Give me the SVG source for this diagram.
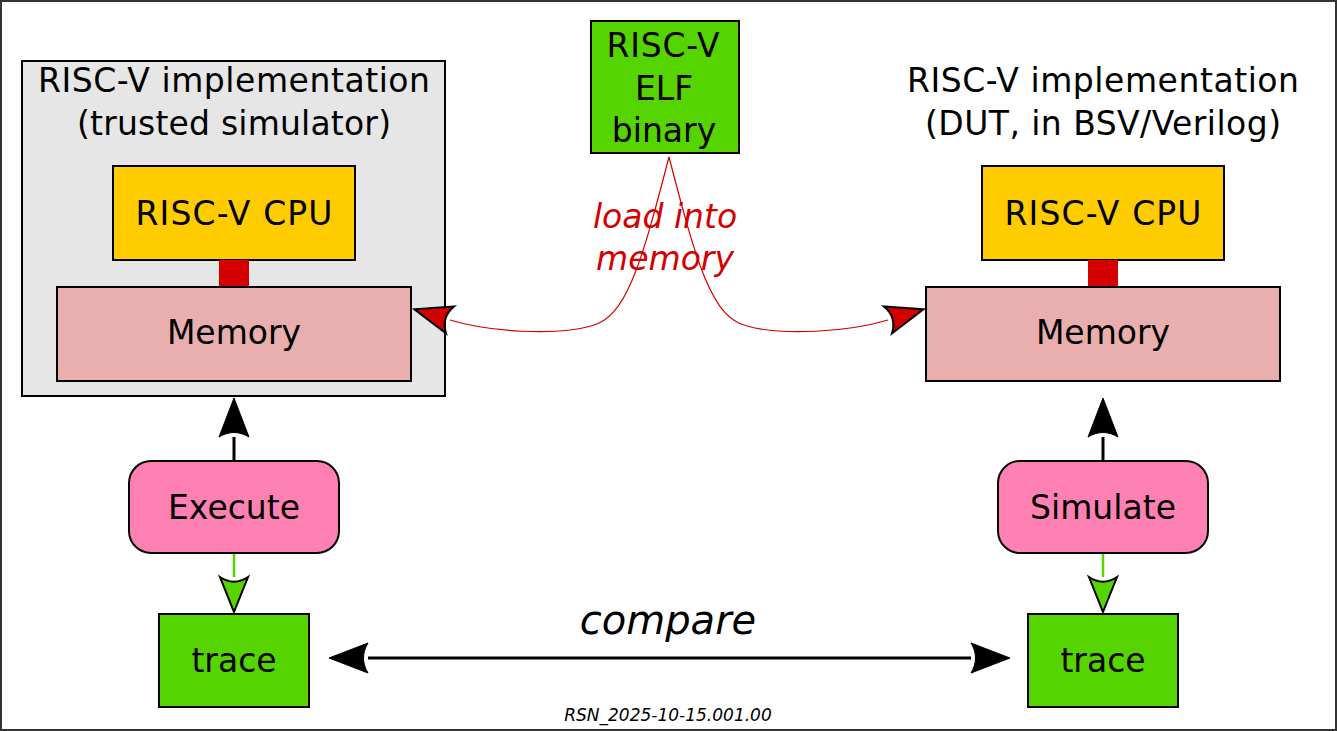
<svg xmlns="http://www.w3.org/2000/svg" width="1337" height="731" viewBox="0 0 1337 731">
<style>
  text { font-family: "DejaVu Sans", "Verdana", sans-serif; font-size: 33px; fill: #000; text-anchor: middle; }
  .box { stroke: #000; stroke-width: 2; }
  .it { font-style: italic; }
  .red { fill: #d40000; }
  .big { font-size: 40px; }
  .small { font-size: 17px; }
</style>
<defs>
  <marker id="ahBlack" markerUnits="userSpaceOnUse" orient="auto-start-reverse" markerWidth="50" markerHeight="40" refX="0" refY="0" viewBox="-4 -20 50 40" overflow="visible">
    <path d="M 39,0 L 0,-15 C 6,-5 6,5 0,15 Z" fill="#000" stroke="#000" stroke-width="1"/>
  </marker>
  <marker id="ahGreen" markerUnits="userSpaceOnUse" orient="auto" markerWidth="50" markerHeight="40" refX="0" refY="0" viewBox="-4 -20 50 40" overflow="visible">
    <path d="M 35,0 L 0,-14 C 6,-5 6,5 0,14 Z" fill="#55d400" stroke="#000" stroke-width="2"/>
  </marker>
  <marker id="ahRed" markerUnits="userSpaceOnUse" orient="auto" markerWidth="50" markerHeight="40" refX="0" refY="0" viewBox="-4 -20 50 40" overflow="visible">
    <path d="M 37,0 L 0,-14 C 6,-5 6,5 0,14 Z" fill="#d40000" stroke="#000" stroke-width="2"/>
  </marker>
</defs>
<rect x="0" y="0" width="1337" height="731" fill="#fff"/>
<rect x="1" y="1" width="1335" height="729" fill="none" stroke="#333" stroke-width="2"/>

<g id="sim-container">
  <rect class="box" x="22" y="61" width="423" height="335" fill="#e6e6e6"/>
  <text x="234" y="92" textLength="392" lengthAdjust="spacing">RISC-V implementation</text>
  <text x="234" y="135" textLength="314" lengthAdjust="spacing">(trusted simulator)</text>
</g>
<g id="sim-cpu">
  <rect class="box" x="113" y="166" width="242" height="94" fill="#ffcc00"/>
  <text x="234" y="225" textLength="197" lengthAdjust="spacing">RISC-V CPU</text>
</g>
<g id="sim-bus">
  <rect x="219" y="260" width="30" height="27" fill="#d40000"/>
</g>
<g id="sim-memory">
  <rect class="box" x="57" y="287" width="354" height="94" fill="#e9afaf"/>
  <text x="234" y="344">Memory</text>
</g>
<g id="execute">
  <rect class="box" x="129" y="461" width="210" height="92" rx="22" fill="#ff80b2"/>
  <text x="234" y="519">Execute</text>
</g>
<g id="trace-left">
  <rect class="box" x="159" y="614" width="150" height="93" fill="#55d400"/>
  <text x="234" y="672">trace</text>
</g>

<g id="dut-title">
  <text x="1103" y="92" textLength="392" lengthAdjust="spacing">RISC-V implementation</text>
  <text x="1103" y="135" textLength="356" lengthAdjust="spacing">(DUT, in BSV/Verilog)</text>
</g>
<g id="dut-cpu">
  <rect class="box" x="982" y="166" width="242" height="94" fill="#ffcc00"/>
  <text x="1103" y="225" textLength="197" lengthAdjust="spacing">RISC-V CPU</text>
</g>
<g id="dut-bus">
  <rect x="1088" y="260" width="30" height="27" fill="#d40000"/>
</g>
<g id="dut-memory">
  <rect class="box" x="926" y="287" width="354" height="94" fill="#e9afaf"/>
  <text x="1103" y="344">Memory</text>
</g>
<g id="simulate">
  <rect class="box" x="998" y="461" width="210" height="92" rx="22" fill="#ff80b2"/>
  <text x="1103" y="519" textLength="146" lengthAdjust="spacing">Simulate</text>
</g>
<g id="trace-right">
  <rect class="box" x="1028" y="614" width="150" height="93" fill="#55d400"/>
  <text x="1103" y="672">trace</text>
</g>

<g id="elf">
  <rect class="box" x="591" y="21" width="148" height="132" fill="#55d400"/>
  <text x="663" y="57" textLength="113" lengthAdjust="spacing">RISC-V</text>
  <text x="664" y="100">ELF</text>
  <text x="664" y="142">binary</text>
</g>

<g id="connectors" fill="none">
  <path d="M 234,461 L 234,437" stroke="#000" stroke-width="3" marker-end="url(#ahBlack)"/>
  <path d="M 1103,461 L 1103,437" stroke="#000" stroke-width="3" marker-end="url(#ahBlack)"/>
  <path d="M 234,554 L 234,577" stroke="#55d400" stroke-width="2.5" marker-end="url(#ahGreen)"/>
  <path d="M 1103,554 L 1103,577" stroke="#55d400" stroke-width="2.5" marker-end="url(#ahGreen)"/>
  <path d="M 368,658 L 971,658" stroke="#000" stroke-width="3" marker-start="url(#ahBlack)" marker-end="url(#ahBlack)"/>
  <path d="M 669,157 C 641,265 626,318 591,326 C 556,336 490,332 450,320" stroke="#d40000" stroke-width="1.2" marker-end="url(#ahRed)"/>
  <path d="M 669,157 C 697,265 712,318 747,326 C 782,336 848,332 888,320" stroke="#d40000" stroke-width="1.2" marker-end="url(#ahRed)"/>
</g>

<g id="labels">
  <text class="it red" x="665" y="228">load into</text>
  <text class="it red" x="665" y="270">memory</text>
  <text class="it big" x="668" y="634">compare</text>
  <text class="it small" x="668" y="721">RSN_2025-10-15.001.00</text>
</g>
</svg>
